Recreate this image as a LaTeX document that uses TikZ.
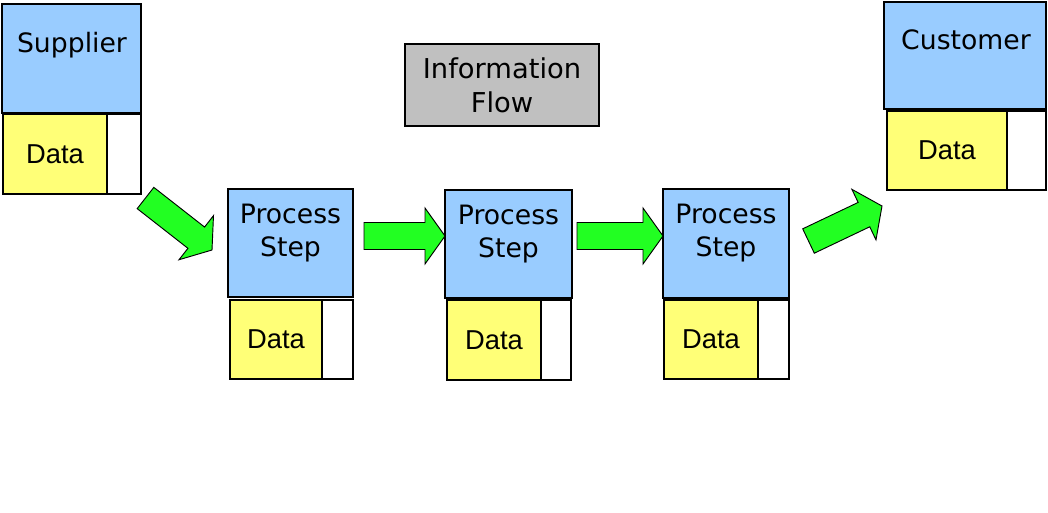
\documentclass[tikz,border=0pt]{standalone}
\usepackage{fontspec}
\newfontfamily\lucida{DejaVu Sans}
\newfontfamily\arial{Liberation Sans}
\usetikzlibrary{calc,fit}
\definecolor{boxblue}{HTML}{99CCFF}
\definecolor{boxyellow}{HTML}{FFFF77}
\definecolor{arrowgreen}{HTML}{22FF22}
\definecolor{boxgray}{HTML}{C0C0C0}
\newcommand\blkarrow[3]{%
  \coordinate (#3c) at ($(#2)!15pt!(#1)$);
  \draw[blockarrow] ($(#1)!10.125pt!90:(#2)$) -- ($(#3c)!10.125pt!-90:(#1)$)
    -- ($(#3c)!21pt!-90:(#1)$) -- (#2) -- ($(#3c)!21pt!90:(#1)$)
    -- ($(#3c)!10.125pt!90:(#1)$) -- ($(#1)!10.125pt!-90:(#2)$) -- cycle;
}
\begin{document}
\begin{tikzpicture}[x=0.75pt,y=-0.75pt,
  box/.style={draw=black, line width=1pt, inner sep=0pt, outer sep=0pt},
  bluebox/.style={box, fill=boxblue},
  datalbl/.style={inner sep=0pt, font=\arial\fontsize{20.5}{24}\selectfont},
  databox/.style={box, fill=boxyellow, label={[datalbl]center:Data}},
  sparebox/.style={box, fill=white},
  infobox/.style={box, fill=boxgray},
  lbl/.style={inner sep=0pt, font=\lucida\fontsize{20}{24.75}\selectfont, align=center},
  infolbl/.style={inner sep=0pt, font=\lucida\fontsize{20.5}{25.5}\selectfont, align=center},
  blockarrow/.style={fill=arrowgreen, draw=black, line width=0.7pt, line join=miter}]
\useasboundingbox (0,0) rectangle (1048,512);

% Supplier
\node[bluebox, fit={(2,4) (141,113)}] (sup) {};
\node[lbl, anchor=base] at (72,52) {Supplier};
\node[databox, fit={(3,114) (107,194)}] (supdata) {};
\node[sparebox, fit={(107,114) (141,194)}] (supspare) {};

% Information Flow
\node[infobox, fit={(405,44) (599,126)}, label={[infolbl]center:Information\\Flow}] (info) {};

% Customer
\node[bluebox, fit={(884,2) (1046,109)}] (cus) {};
\node[lbl, anchor=base] at (966,49) {Customer};
\node[databox, fit={(887,111) (1007,190)}] (cusdata) {};
\node[sparebox, fit={(1007,111) (1046,190)}] (cusspare) {};

% Process steps
\node[bluebox, fit={(228,189) (353,297)}] (p1) {};
\node[lbl, anchor=north] at (290.5,204) {Process\\Step};
\node[databox, fit={(230,300) (322,379)}] (p1data) {};
\node[sparebox, fit={(322,300) (353,379)}] (p1spare) {};

\node[bluebox, fit={(445,190) (572,298)}] (p2) {};
\node[lbl, anchor=north] at (508.5,205) {Process\\Step};
\node[databox, fit={(447,300) (541,380)}] (p2data) {};
\node[sparebox, fit={(541,300) (571,380)}] (p2spare) {};

\node[bluebox, fit={(663,189) (789,298)}] (p3) {};
\node[lbl, anchor=north] at (726,204) {Process\\Step};
\node[databox, fit={(664,300) (758,379)}] (p3data) {};
\node[sparebox, fit={(758,300) (789,379)}] (p3spare) {};

% Block arrows
\coordinate (a1s) at (145.5,198);
\coordinate (a1t) at (212,250);
\coordinate (a2s) at (364,236);
\coordinate (a2t) at (p2.west |- a2s);
\coordinate (a3s) at (577,236);
\coordinate (a3t) at (p3.west |- a3s);
\coordinate (a4s) at (808.5,241);
\coordinate (a4t) at (882,206);
\blkarrow{a1s}{a1t}{a1}
\blkarrow{a2s}{a2t}{a2}
\blkarrow{a3s}{a3t}{a3}
\blkarrow{a4s}{a4t}{a4}
\end{tikzpicture}
\end{document}
